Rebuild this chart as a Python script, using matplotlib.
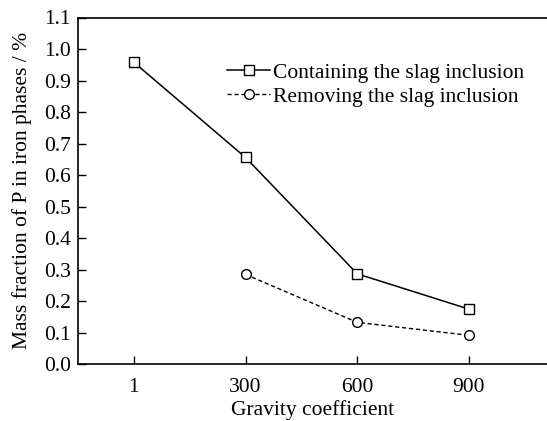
import matplotlib
matplotlib.use("Agg")
import matplotlib.pyplot as plt

# Data
categories = ["1", "300", "600", "900"]
containing = [0.958, 0.656, 0.287, 0.175]
removing_cats = ["300", "600", "900"]
removing = [0.285, 0.133, 0.092]

plt.rcParams["font.family"] = ["Liberation Serif", "DejaVu Serif"]
plt.rcParams["font.size"] = 15.5

W, H = 547, 421
fig = plt.figure(figsize=(W / 100, H / 100), dpi=100)

left = 78 / W
bottom = (H - 364.3) / H
top = (H - 17.5) / H
ax = fig.add_axes([left, bottom, 1.0 - left, top - bottom])

xpos = {c: i for i, c in enumerate(categories)}
ax.plot([xpos[c] for c in categories], containing, "k-", lw=1.1,
        marker="s", ms=6.5, mfc="white", mec="k", mew=1.0,
        label="Containing the slag inclusion")
ax.plot([xpos[c] for c in removing_cats], removing, color="k", ls=(0, (3, 2)),
        lw=1.0, marker="o", ms=7, mfc="white", mec="k", mew=1.0,
        label="Removing the slag inclusion")

step = 111.7
ax.set_xlim(-0.5, (W - 78) / step - 0.5)
ax.set_ylim(0, 1.1)
ax.set_xticks(range(len(categories)))
ax.set_xticklabels(categories)
ax.set_yticks([i / 10 for i in range(12)])
ax.set_yticklabels([f"{i / 10:.1f}" for i in range(12)])

ax.spines["right"].set_visible(False)
for s in ["left", "bottom", "top"]:
    ax.spines[s].set_linewidth(1.2)
ax.tick_params(direction="in", length=6, width=1.0, top=False, right=False)
ax.tick_params(axis="x", pad=10)
ax.tick_params(axis="y", pad=5)

ax.set_xlabel("Gravity coefficient", labelpad=2)
ax.set_ylabel("Mass fraction of P in iron phases / %", labelpad=9)

ax.legend(loc="upper left", bbox_to_anchor=(0.3, 0.895), frameon=False,
          handlelength=2.0, handletextpad=0.1, labelspacing=0.2,
          borderaxespad=0, fontsize=15.5)

fig.savefig("out.png", dpi=100)
